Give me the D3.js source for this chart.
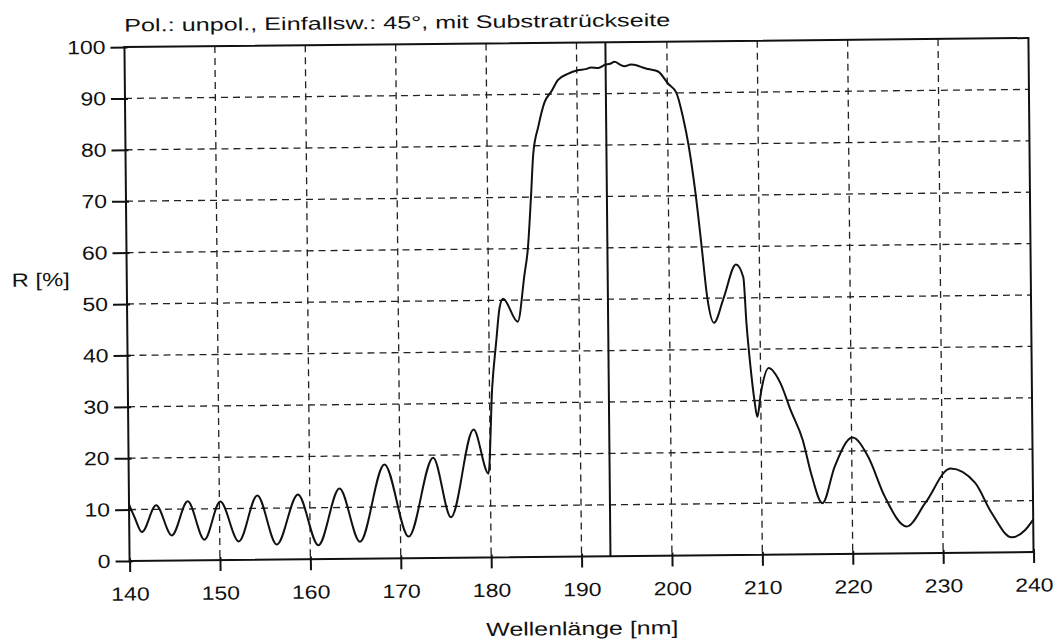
<!DOCTYPE html>
<html lang="de">
<head>
  <meta charset="UTF-8" />
  <title>Reflexion R [%]</title>
  <script src="https://d3js.org/d3.v7.min.js"></script>
  <style>
    body {
      margin: 0;
      background: #fff;
      font-family: 'Liberation Sans', Arial, sans-serif;
    }
    .grid line {
      stroke: #222;
      stroke-width: 1.3;
      stroke-dasharray: 7, 5;
    }
    .axis text {
      font-size: 19px;
      fill: #111;
    }
    .axis line {
      stroke: #111;
      stroke-width: 2;
    }
    .line {
      fill: none;
      stroke: #111;
      stroke-width: 2;
    }
  </style>
</head>
<body>
  <div id="chart"></div>

  <script>
    // Wellenlänge [nm] und Reflexion R [%]
    const wavelength = [
      140.0, 140.6, 141.4, 143.0, 144.7, 146.5, 148.3, 150.1, 152.1, 154.2,
      156.3, 158.7, 160.9, 163.3, 165.5, 168.3, 170.9, 173.7, 175.6, 178.2,
      179.8, 180.3, 180.8, 181.2, 181.6, 183.2, 184.0, 184.4, 184.8, 185.1,
      185.7, 186.4, 187.2, 187.9, 189.0, 190.1, 191.0, 191.6, 192.4, 193.1,
      193.7, 194.2, 194.8, 195.3, 196.0, 196.7, 197.3, 197.9, 199.0, 200.1,
      201.0, 201.7, 202.3, 203.0, 203.6, 204.2, 204.9, 206.0, 207.4, 208.2,
      208.5, 208.9, 209.3, 209.6, 210.0, 210.9, 212.2, 213.3, 214.6, 215.5,
      216.7, 218.1, 220.1, 221.8, 223.6, 226.0, 228.1, 230.9, 233.6, 235.4,
      237.6, 239.1, 240.0
    ];
    const reflectance = [
      11.0, 8.5, 5.6, 10.8, 4.9, 11.5, 4.0, 11.4, 3.6, 12.5,
      2.9, 12.6, 2.7, 13.7, 3.3, 18.3, 4.2, 19.5, 7.9, 24.9,
      16.3, 33.0, 42.0, 48.5, 50.3, 45.8, 55.0, 60.0, 70.0, 78.4,
      83.8, 88.4, 90.6, 92.7, 93.9, 94.6, 94.8, 95.1, 95.0, 95.6,
      95.8, 96.2, 95.6, 95.3, 95.6, 95.4, 95.0, 94.7, 94.2, 91.8,
      90.0, 85.3, 79.7, 70.5, 60.5, 50.0, 45.2, 50.0, 56.5, 54.0,
      45.0, 36.5, 30.0, 26.8, 31.3, 36.3, 33.3, 28.0, 22.2, 15.6,
      9.9, 17.0, 22.6, 18.9, 11.1, 5.2, 9.8, 16.4, 13.6, 7.7,
      2.9, 4.3, 6.3
    ];
    const xTicks = [140, 150, 160, 170, 180, 190, 200, 210, 220, 230, 240];
    const yTicks = [0, 10, 20, 30, 40, 50, 60, 70, 80, 90, 100];
    const laserLine = 193.2;

    const title = "Pol.: unpol., Einfallsw.: 45°, mit Substratrückseite";
    const xLabel = "Wellenlänge [nm]";
    const yLabel = "R [%]";

    const W = 1058, H = 640;
    const margin = { top: 42.5, right: 27, bottom: 83.5, left: 127 };
    const width = W - margin.left - margin.right;
    const height = H - margin.top - margin.bottom;

    const svg = d3.select("#chart").append("svg")
      .attr("width", W)
      .attr("height", H);

    // the scan is turned a little
    const root = svg.append("g").attr("transform", "rotate(-0.57, 579, 300)");
    const g = root.append("g").attr("transform", `translate(${margin.left},${margin.top})`);

    const x = d3.scaleLinear().domain([140, 240]).range([0, width]);
    const y = d3.scaleLinear().domain([0, 100]).range([height, 0]);

    // grid
    const grid = g.append("g").attr("class", "grid");
    grid.selectAll(".gx").data(xTicks.slice(1, -1)).enter().append("line")
      .attr("x1", d => x(d)).attr("x2", d => x(d))
      .attr("y1", 0).attr("y2", height);
    grid.selectAll(".gy").data(yTicks.slice(1, -1)).enter().append("line")
      .attr("x1", 0).attr("x2", width)
      .attr("y1", d => y(d)).attr("y2", d => y(d));

    // axes
    const xAxis = g.append("g").attr("class", "axis")
      .attr("transform", `translate(0,${height})`)
      .call(d3.axisBottom(x).tickValues(xTicks).tickSize(11).tickPadding(15));
    const yAxis = g.append("g").attr("class", "axis")
      .call(d3.axisLeft(y).tickValues(yTicks).tickSize(14).tickPadding(5));
    xAxis.select(".domain").remove();
    yAxis.select(".domain").remove();
    xAxis.selectAll(".tick line").attr("y1", -3);
    yAxis.selectAll(".tick line").attr("x1", 3);
    g.selectAll(".axis .tick text")
      .attr("textLength", function () { return this.textContent.length * 12.8; })
      .attr("lengthAdjust", "spacingAndGlyphs");

    // frame
    g.append("rect")
      .attr("width", width).attr("height", height)
      .attr("fill", "none").attr("stroke", "#111").attr("stroke-width", 2);

    // laser wavelength marker
    g.append("line")
      .attr("x1", x(laserLine)).attr("x2", x(laserLine))
      .attr("y1", 0).attr("y2", height)
      .attr("stroke", "#111").attr("stroke-width", 2);

    // curve
    const data = wavelength.map((d, i) => ({ wl: d, r: reflectance[i] }));
    const line = d3.line()
      .x(d => x(d.wl))
      .y(d => y(d.r))
      .curve(d3.curveMonotoneX);
    g.append("path").datum(data).attr("class", "line").attr("d", line);

    // texts
    root.append("text")
      .attr("x", 127).attr("y", 27)
      .attr("font-size", 18).attr("fill", "#111")
      .attr("textLength", 546).attr("lengthAdjust", "spacingAndGlyphs")
      .text(title);
    root.append("text")
      .attr("x", 12).attr("y", 281)
      .attr("font-size", 19).attr("fill", "#111")
      .attr("textLength", 58).attr("lengthAdjust", "spacingAndGlyphs")
      .text(yLabel);
    root.append("text")
      .attr("x", 483).attr("y", 635)
      .attr("font-size", 19).attr("fill", "#111")
      .attr("textLength", 192).attr("lengthAdjust", "spacingAndGlyphs")
      .text(xLabel);
  </script>
</body>
</html>
